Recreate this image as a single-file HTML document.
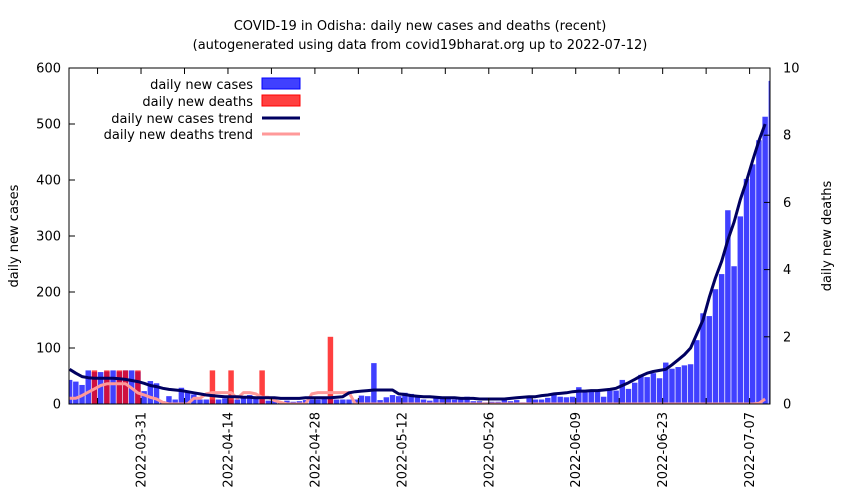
<!DOCTYPE html>
<html><head><meta charset="utf-8"><style>
body{margin:0;background:#fff;}
svg{display:block;font-family:"DejaVu Sans","Liberation Sans",sans-serif;}
</style></head><body>
<svg id="chart" width="850" height="500" viewBox="0 0 850 500" xmlns="http://www.w3.org/2000/svg">
<rect width="850" height="500" fill="#fff"/>
<text x="420" y="30" font-size="13" text-anchor="middle">COVID-19 in Odisha: daily new cases and deaths (recent)</text>
<text x="420" y="49" font-size="13" text-anchor="middle">(autogenerated using data from covid19bharat.org up to 2022-07-12)</text>
<text transform="translate(18,236) rotate(-90)" font-size="13" text-anchor="middle">daily new cases</text>
<text transform="translate(831,236) rotate(-90)" font-size="13" text-anchor="middle">daily new deaths</text>
<defs><clipPath id="plotclip"><rect x="69" y="68" width="701" height="336"/></clipPath></defs>
<g id="bars" clip-path="url(#plotclip)"></g>
<g id="lines" clip-path="url(#plotclip)"></g>
<g id="axes"></g>
<g id="legend">
<text x="253" y="89" font-size="13" text-anchor="end">daily new cases</text>
<rect x="262" y="78" width="38" height="11" fill="rgba(0,0,255,0.75)" stroke="#0000ff" stroke-width="1"/>
<text x="253" y="106" font-size="13" text-anchor="end">daily new deaths</text>
<rect x="262" y="95" width="38" height="11" fill="rgba(255,0,0,0.75)" stroke="#ff0000" stroke-width="1"/>
<text x="253" y="123" font-size="13" text-anchor="end">daily new cases trend</text>
<line x1="262" y1="118" x2="300" y2="118" stroke="#000060" stroke-width="3"/>
<text x="253" y="139" font-size="13" text-anchor="end">daily new deaths trend</text>
<line x1="262" y1="134" x2="300" y2="134" stroke="#ff9999" stroke-width="3"/>
</g>
</svg>
<script>
const startDate = "2022-03-19";
const cases = [43,40,34,60,57,57,58,60,58,60,60,58,23,41,37,5,14,8,29,22,17,8,8,8,8,10,8,8,14,16,
13,8,6,6,4,6,4,5,7,8,8,11,11,8,8,8,8,15,14,73,7,12,16,14,20,18,12,8,6,11,
10,10,8,8,13,5,5,3,4,4,10,5,7,3,13,8,8,11,19,13,12,13,30,21,23,22,13,24,24,43,
27,38,52,48,55,46,74,63,66,69,71,114,162,157,205,232,346,246,335,402,428,471,513,577];
const deaths = [0,0,0,0,1,0,1,0,1,1,0,1,0,0,0,0,0,0,0,0,0,0,0,1,0,0,1,0,0,0,
0,1,0,0,0,0,0,0,0,0,0,0,2,0,0,0,0,0,0,0,0,0,0,0,0,0,0,0,0,0,
0,0,0,0,0,0,0,0,0,0,0,0,0,0,0,0,0,0,0,0,0,0,0,0,0,0,0,0,0,0,
0,0,0,0,0,0,0,0,0,0,0,0,0,0,0,0,0,0,0,0,0,0,0,0];
const casesTrend = [62,55,49,47,46,46,46,46,45,44,42,40,37,33,31,28,26,25,24,22,20,18,16,15,14,13,13,13,12,12,
11,11,11,11,10,10,10,10,11,11,11,11,11,12,13,20,22,23,24,25,25,25,25,18,17,15,14,13,13,12,
11,11,11,10,10,10,9,9,9,9,9,10,11,12,13,13,15,16,18,19,20,22,23,23,24,24,25,26,28,33,
38,44,50,55,58,60,62,70,79,88,100,125,150,190,225,255,293,325,365,398,435,470,500,null];
const deathsTrend = [0.17,0.17,0.25,0.35,0.45,0.55,0.6,0.6,0.6,0.6,0.47,0.33,0.27,0.2,0.15,0.05,0,0,0,0,0.17,0.17,0.3,0.34,0.34,0.34,0.34,0.17,0.34,0.34,
0.3,0.2,0.2,0.1,0.05,0,0,0,0,0.3,0.34,0.34,0.34,0.34,0.34,0.34,0,0,0,0,0,0,0,0,0,0,0,0,0,0,
0,0,0,0,0,0,0,0,0,0,0,0,0,0,0,0,0,0,0,0,0,0,0,0,0,0,0,0,0,0,
0,0,0,0,0,0,0,0,0,0,0,0,0,0,0,0,0,0,0,0,0,0.02,0.15,null];
const yTicks = [0,100,200,300,400,500,600];
const y2Ticks = [0,2,4,6,8,10];
const xTickLabels = ["2022-03-31","2022-04-14","2022-04-28","2022-05-12","2022-05-26","2022-06-09","2022-06-23","2022-07-07"];

const NS = "http://www.w3.org/2000/svg";
const L=69,R=770,T=68,B=404, DX=6.21, X0=66.5;
const t0 = Date.parse(startDate+"T00:00:00Z");
function dayOf(s){return (Date.parse(s+"T00:00:00Z")-t0)/86400000;}
function x(t){return X0 + t*DX;}
function y(v){return B - v*(B-T)/600;}
function y2(v){return B - v*(B-T)/10;}
function mk(tag,attrs,parent){const e=document.createElementNS(NS,tag);for(const k in attrs)e.setAttribute(k,attrs[k]);parent.appendChild(e);return e;}

const gb=document.getElementById('bars'), gl=document.getElementById('lines'), ga=document.getElementById('axes');
const bw=DX*0.88;
cases.forEach((v,i)=>{
  const r=mk('rect',{x:x(i+0.5)-bw/2,y:y(v),width:bw,height:B-y(v),fill:'rgba(0,0,255,0.75)'},gb);
  
  
});
deaths.forEach((v,i)=>{
  if(!v) return;
  const r=mk('rect',{x:x(i+0.5)-bw/2,y:y2(v),width:bw,height:B-y2(v),fill:'rgba(255,0,0,0.75)'},gb);
  
  
});
function path(arr,fy){let d='';arr.forEach((v,i)=>{if(v===null)return;d+=(d?'L':'M')+x(i+0.5).toFixed(1)+','+fy(v).toFixed(1);});return d;}
const pd=mk('path',{d:path(deathsTrend,y2),fill:'none',stroke:'#ff9999','stroke-width':3,'stroke-linejoin':'round'},gl);


const pc=mk('path',{d:path(casesTrend,y),fill:'none',stroke:'#000060','stroke-width':3,'stroke-linejoin':'round'},gl);



const frame=mk('rect',{x:L,y:T,width:R-L,height:B-T,fill:'none',stroke:'#000','stroke-width':1},ga);


yTicks.forEach(v=>{
  mk('line',{x1:L,y1:y(v),x2:L+6,y2:y(v),stroke:'#000'},ga);
  const t=mk('text',{x:L-8,y:y(v)+4.5,'font-size':13,'text-anchor':'end'},ga);
  t.textContent=v;
  
  
});
y2Ticks.forEach(v=>{
  mk('line',{x1:R-6,y1:y2(v),x2:R,y2:y2(v),stroke:'#000'},ga);
  const t=mk('text',{x:R+13,y:y2(v)+4.5,'font-size':13,'text-anchor':'start'},ga);
  t.textContent=v;
  
  
});
xTickLabels.forEach(s=>{
  const d=dayOf(s);
  [d,d-7].forEach(dd=>{
    const xx=x(dd); if(xx<L||xx>R) return;
    mk('line',{x1:xx,y1:B,x2:xx,y2:B-6,stroke:'#000'},ga);
    mk('line',{x1:xx,y1:T,x2:xx,y2:T+6,stroke:'#000'},ga);
  });
  const xx=x(d);
  const t=mk('text',{transform:`translate(${xx+4.5},${B+8}) rotate(-90)`,'font-size':13,'text-anchor':'end'},ga);
  t.textContent=s;
  
  
});
</script>
</body></html>
